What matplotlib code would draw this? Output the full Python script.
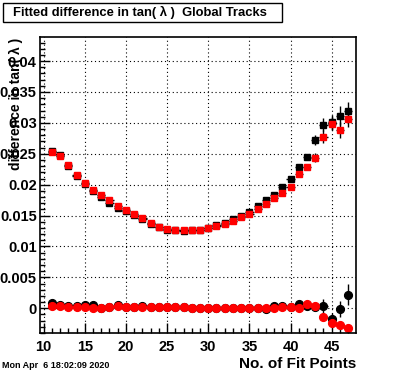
import matplotlib
matplotlib.use("Agg")
import matplotlib.pyplot as plt
from matplotlib.patches import Rectangle
from matplotlib.ticker import MultipleLocator, FixedLocator

nfit = list(range(11, 48))

# upper curves (squares)
sq_black = [0.0255, 0.0248, 0.0231, 0.0214, 0.0201, 0.0189, 0.0180, 0.0171, 0.0163,
            0.0157, 0.0151, 0.0144, 0.0136, 0.0131, 0.0127, 0.0126, 0.0125, 0.0126,
            0.0127, 0.0130, 0.0135, 0.0138, 0.0144, 0.0149, 0.0155, 0.01655, 0.01748,
            0.01828, 0.01958, 0.02097, 0.02291, 0.02443, 0.02723, 0.02971, 0.03010,
            0.03117, 0.03193]
sq_black_err = [0.0002]*25 + [0.0002, 0.0002, 0.0002, 0.0003, 0.0003, 0.0004, 0.0005,
                              0.0008, 0.0010, 0.0012, 0.0015, 0.0015]
sq_red = [0.02534, 0.02464, 0.0232, 0.0216, 0.02028, 0.01914, 0.01838, 0.01747, 0.01655,
          0.0159, 0.0153, 0.01456, 0.01386, 0.0132, 0.01283, 0.01267, 0.01262, 0.01267,
          0.01272, 0.01304, 0.01332, 0.01369, 0.01418, 0.01482, 0.0153, 0.0160, 0.01693,
          0.0179, 0.0187, 0.01963, 0.02178, 0.02291, 0.02437, 0.02777, 0.02987,
          0.02885, 0.03068]
sq_red_err = [0.0002]*25 + [0.0002, 0.0002, 0.0002, 0.0003, 0.0003, 0.0004, 0.0005,
                            0.0007, 0.0010, 0.0011, 0.0013, 0.0014]

# lower curves (circles)
ci_black = [0.0008, 0.0005, 0.0003, 0.0004, 0.0005, 0.0005, 0.0001, 0.0002, 0.0005,
            0.0002, 0.0002, 0.0004, 0.0002, 0.0002, 0.0002, 0.0002, 0.0002, 0.0001,
            0.0000, 0.0000, 0.0000, 0.0000, 0.0000, 0.0000, 0.0001, 0.0000, -0.00005,
            0.0004, 0.0003, 0.0002, 0.0007, 0.0003, 0.0002, 0.0004, -0.00178,
            -0.00016, 0.00215]
ci_black_err = [0.0001]*29 + [0.0002, 0.0003, 0.0005, 0.0006, 0.0011, 0.0010,
                              0.0013, 0.0017]
ci_red = [0.00037, 0.00042, 0.00026, 0.00026, 0.00026, 0.0001, 0.00005, 0.0002, 0.0003,
          0.0002, 0.00015, 0.00026, 0.0002, 0.0002, 0.0002, 0.0002, 0.0002, 0.00005,
          0.0000, 0.0000, 0.0000, 0.0000, 0.0000, 0.0000, 0.0000, 0.0000, 0.0000,
          0.0001, 0.0002, 0.0002, 0.0000, 0.0007, 0.0004, -0.00135, -0.00243,
          -0.0027, -0.00324]
ci_red_err = [0.0001]*31 + [0.0002, 0.0003, 0.0003, 0.0003, 0.0003, 0.0003]

yticks = [0, 0.005, 0.01, 0.015, 0.02, 0.025, 0.03, 0.035, 0.04]
ytick_labels = ["0", "0.005", "0.01", "0.015", "0.02", "0.025", "0.03", "0.035", "0.04"]
xticks = [10, 15, 20, 25, 30, 35, 40, 45]

title = "Fitted difference in tan( \u03bb )  Global Tracks"
ylabel = "difference in tan( \u03bb )"
xlabel = "No. of Fit Points"
datestr = "Mon Apr  6 18:02:09 2020"

plt.rcParams['font.family'] = ['Liberation Sans', 'DejaVu Sans']
plt.rcParams['font.weight'] = 'bold'

W, H = 396, 372
fig = plt.figure(figsize=(W/100, H/100), dpi=100)
ax = fig.add_axes([39.5/W, 1 - 333.3/H, (356 - 39.5)/W, (333.3 - 37.3)/H])

ms = 5.0
common = dict(xerr=0.5, ecolor='black', elinewidth=1.0, capsize=0, linestyle='none')
ax.errorbar(nfit, sq_black, yerr=sq_black_err, marker='s', ms=ms, mfc='black', mec='black', **common)
ax.errorbar(nfit, sq_red, yerr=sq_red_err, marker='s', ms=ms, mfc='red', mec='red', **common)
ax.errorbar(nfit, ci_black, yerr=ci_black_err, marker='o', ms=ms+0.6, mfc='black', mec='black', **common)
ax.errorbar(nfit, ci_red, yerr=ci_red_err, marker='o', ms=ms+0.6, mfc='red', mec='red', **common)

ax.set_xlim(9.5, 47.95)
ax.set_ylim(-0.00405, 0.04385)

ax.xaxis.set_major_locator(FixedLocator(xticks))
ax.xaxis.set_minor_locator(MultipleLocator(1))
ax.yaxis.set_major_locator(FixedLocator(yticks))
ax.yaxis.set_minor_locator(MultipleLocator(0.001))
ax.set_yticklabels(ytick_labels)
ax.set_xticklabels([str(t) for t in xticks])

ax.tick_params(which='both', direction='in', top=False, right=False, width=1.0)
ax.tick_params(which='major', length=7, labelsize=10.5, pad=2)
ax.tick_params(which='minor', length=3.5)
ax.tick_params(axis='x', which='major', pad=5)
for lab in ax.get_xticklabels() + ax.get_yticklabels():
    lab.set_fontweight('bold')

ax.grid(True, which='major', color='black', linestyle=(0, (1, 2.5)), linewidth=0.8)
ax.set_axisbelow(True)
for s in ax.spines.values():
    s.set_linewidth(1.2)

fig.text(356/W, 1 - 368/H, xlabel, ha='right', va='baseline', fontsize=11, fontweight='bold')
fig.text(16/W, 1 - 38/H, ylabel, rotation=90, ha='center', va='top', fontsize=10, fontweight='bold')
fig.text(2/W, 1 - 368/H, datestr, ha='left', va='baseline', fontsize=6.5, fontweight='bold')

fig.patches.append(Rectangle((3/W, 1 - 22/H), (282 - 3)/W, 19/H, transform=fig.transFigure,
                             facecolor='white', edgecolor='black', linewidth=1.0))
fig.text(140/W, 1 - 12.5/H, title, ha='center', va='center', fontsize=9.4, fontweight='bold')

fig.savefig("out.png", dpi=100)
